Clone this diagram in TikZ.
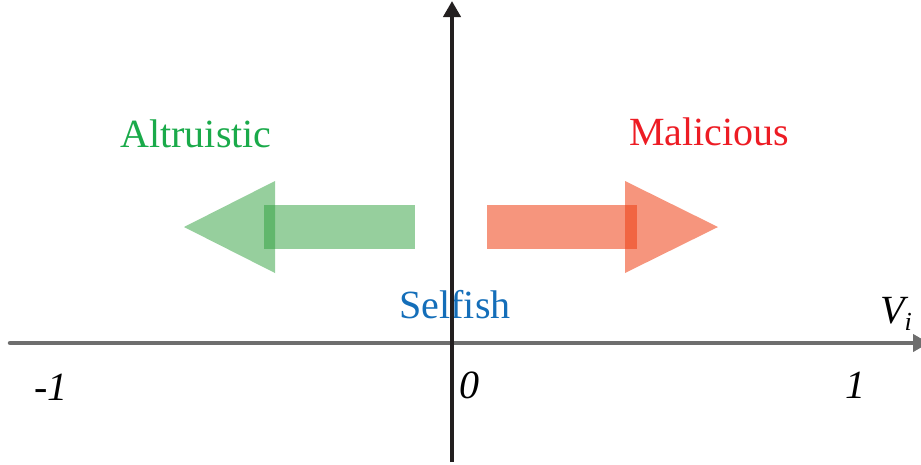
\documentclass[tikz,border=0pt]{standalone}
\usepackage{fontspec}
\setmainfont{Liberation Serif}
\usetikzlibrary{arrows.meta}
\definecolor{altgreen}{RGB}{26,170,74}
\definecolor{malred}{RGB}{237,28,36}
\definecolor{selfblue}{RGB}{20,110,185}
\definecolor{arrgreen}{RGB}{45,160,60}
\definecolor{arrred}{RGB}{238,62,18}
\definecolor{axisgray}{RGB}{110,110,110}
\definecolor{axisblack}{RGB}{35,31,32}
\tikzset{
  lbl/.style={font=\fontsize{40}{40}\selectfont, inner sep=0pt, anchor=base},
  num/.style={font=\fontsize{40}{40}\selectfont\itshape, inner sep=0pt, anchor=base},
  greenpart/.style={fill=arrgreen, fill opacity=0.5, draw=none},
  redpart/.style={fill=arrred, fill opacity=0.55, draw=none},
}
\begin{document}
\begin{tikzpicture}[x=1pt,y=-1pt]
\useasboundingbox (0,0) rectangle (921,464);
\clip (0,0) rectangle (921,464);
% arrows
\fill[greenpart] (264,205) rectangle (415,249);
\fill[greenpart] (184,227) -- (275,181) -- (275,273) -- cycle;
\fill[redpart] (487,205) rectangle (637,249);
\fill[redpart] (718,227) -- (625,181) -- (625,273) -- cycle;
% labels
\node[lbl, text=altgreen] (alt) at (196,147) {Altruistic};
\node[lbl, text=malred] (mal) at (709,145) {Malicious};
\node[lbl, text=selfblue] (self) at (455,318) {Selfish};
% axes
\coordinate (xs) at (10,343);
\coordinate (xe) at (929,343);
\coordinate (ys) at (452,462);
\coordinate (ye) at (452,1);
\draw[axisgray, line width=4.5pt, line cap=round, -{Triangle[length=16pt,width=17pt]}] (xs) -- (xe);
\draw[axisblack, line width=4.5pt, -{Triangle[length=16pt,width=17pt]}] (ys) -- (ye);
% numbers
\node[num] (m1) at (51,400) {-1};
\node[num] (z0) at (469,398) {0};
\node[num] (p1) at (855,398) {1};
\node[num, anchor=base west] (vi) at (880,323) {V\raisebox{-7pt}{\fontsize{26}{26}\selectfont i}};
\end{tikzpicture}
\end{document}
